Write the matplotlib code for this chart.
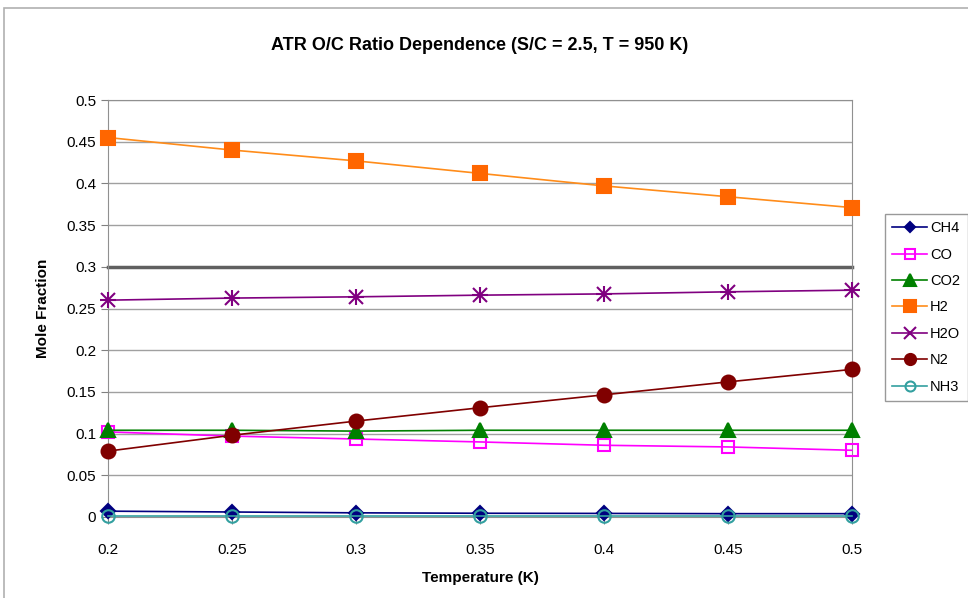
import matplotlib
matplotlib.use("Agg")
import matplotlib.pyplot as plt
from matplotlib.patches import Rectangle

plt.rcParams['font.family'] = ['Liberation Sans', 'DejaVu Sans']

x = [0.2, 0.25, 0.3, 0.35, 0.4, 0.45, 0.5]
ch4 = [0.007, 0.006, 0.005, 0.0045, 0.0043, 0.004, 0.004]
co = [0.102, 0.097, 0.0935, 0.090, 0.086, 0.084, 0.080]
co2 = [0.104, 0.104, 0.103, 0.104, 0.104, 0.104, 0.104]
h2 = [0.455, 0.440, 0.427, 0.412, 0.397, 0.384, 0.371]
h2o = [0.260, 0.2625, 0.264, 0.266, 0.2675, 0.270, 0.272]
n2 = [0.079, 0.098, 0.115, 0.131, 0.1465, 0.162, 0.177]
nh3 = [0.001, 0.001, 0.001, 0.001, 0.001, 0.001, 0.001]

fig = plt.figure(figsize=(9.68, 5.98), dpi=100)
fig.patches.append(Rectangle((4/968, -0.1), 1.2, 1 - 8/598 + 0.1, transform=fig.transFigure,
                             fill=False, edgecolor='#b0b0b0', lw=1.2))
ax = fig.add_axes([108/968, 81/598, 744/968, 417/598])

series = [
    ('CH4', ch4, '#000080', 'D', '#000080', 7),
    ('CO', co, '#ff00ff', 's', 'none', 9),
    ('CO2', co2, '#008000', '^', '#008000', 10),
    ('H2', h2, '#ff8c1a', 's', '#ff6600', 10),
    ('H2O', h2o, '#800080', 'x', '#800080', 10),
    ('N2', n2, '#800000', 'o', '#800000', 10),
    ('NH3', nh3, '#33a0a0', 'o', 'none', 9),
]
for name, vals, col, mk, fc, ms in series:
    mec = '#ff6600' if name == 'H2' else col
    if mk == 'x':
        ax.plot(x, vals, color=col, lw=1.2, marker='x', ms=ms, mew=1.5, label=name, zorder=3)
        ax.plot(x, vals, color=col, lw=0, marker='+', ms=ms + 2, mew=1.5, zorder=3)
        continue
    ax.plot(x, vals, color=col, lw=1.2, marker=mk, ms=ms, mfc=fc, mec=mec, mew=1.5,
            label=name, zorder=3)

ax.set_xlim(0.2, 0.5)
ax.set_ylim(0, 0.5)
ax.set_xticks(x)
ax.set_xticklabels(['0.2', '0.25', '0.3', '0.35', '0.4', '0.45', '0.5'])
yt = [0, 0.05, 0.1, 0.15, 0.2, 0.25, 0.3, 0.35, 0.4, 0.45, 0.5]
ax.set_yticks(yt)
ax.set_yticklabels(['0', '0.05', '0.1', '0.15', '0.2', '0.25', '0.3', '0.35', '0.4', '0.45', '0.5'])
ax.grid(axis='y', color='#a0a0a0', lw=1)
ax.axhline(0.3, color='#606060', lw=2.5, zorder=2)
for s in ax.spines.values():
    s.set_color('#909090')
ax.tick_params(axis='both', labelsize=11, color='#808080', length=5, direction='out')
ax.tick_params(axis='x', pad=14)
for l in ax.lines:
    l.set_clip_on(False)

ax.set_title('ATR O/C Ratio Dependence (S/C = 2.5, T = 950 K)', fontsize=13, fontweight='bold', pad=36)
ax.set_xlabel('Temperature (K)', fontsize=11, fontweight='bold', labelpad=10)
ax.set_ylabel('Mole Fraction', fontsize=11, fontweight='bold', labelpad=12)

handles, labels = ax.get_legend_handles_labels()
leg = fig.legend(handles, labels, loc='upper left', bbox_to_anchor=(885/968, 1 - 214/598),
                 fontsize=10.5, frameon=True, fancybox=False, edgecolor='#808080',
                 handlelength=2.4, labelspacing=0.85, borderpad=0.5, handletextpad=0.2,
                 borderaxespad=0, markerscale=0.8)
leg.get_frame().set_linewidth(1)

fig.savefig('out.png', dpi=100)
